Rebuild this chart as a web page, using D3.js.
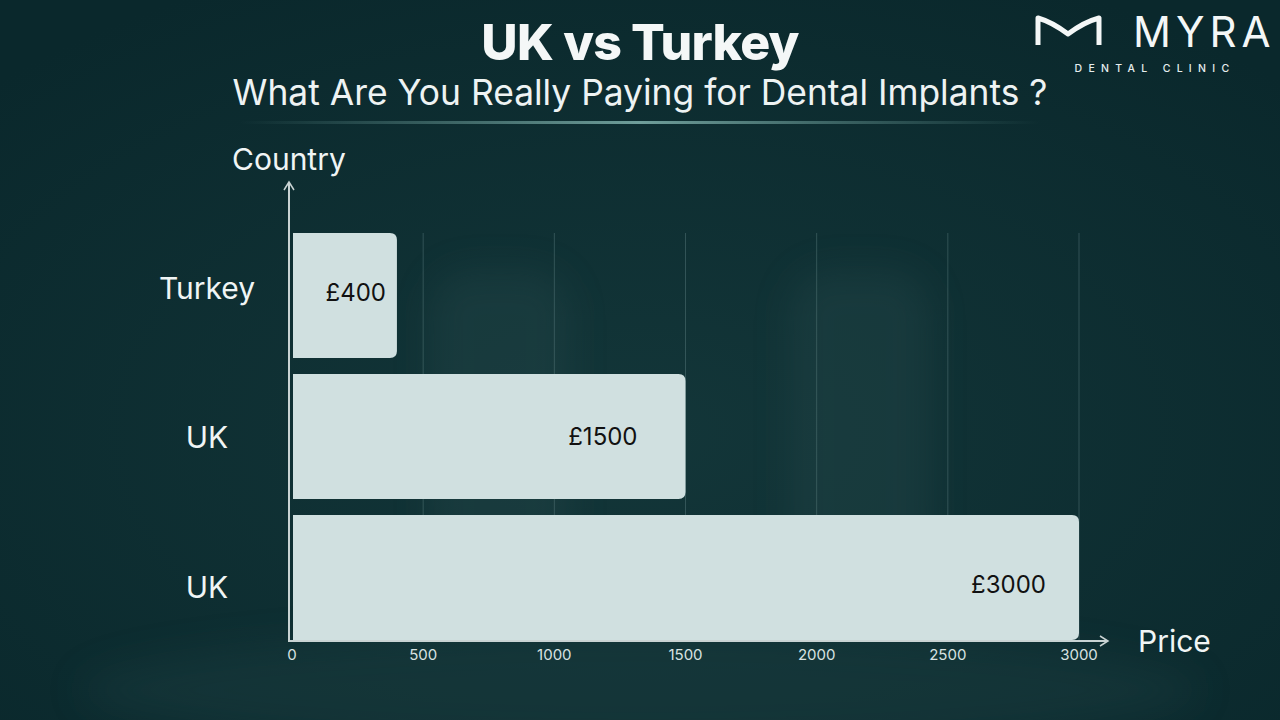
<!DOCTYPE html>
<html><head><meta charset="utf-8">
<script src="https://cdn.jsdelivr.net/npm/d3@7"></script>
<style>html,body{margin:0;padding:0;background:#0b2a2e;}svg{display:block;}</style>
</head><body>
<svg id="c" width="1280" height="720"></svg>
<script>
const categories = ["Turkey", "UK", "UK"];
const prices = [400, 1500, 3000];
const valueLabels = ["£400", "£1500", "£3000"];
const xTicks = [0, 500, 1000, 1500, 2000, 2500, 3000];

const svg = d3.select("#c");
const defs = svg.append("defs");
const bg = defs.append("radialGradient").attr("id","bg").attr("cx","50%").attr("cy","60%").attr("r","70%");
bg.append("stop").attr("offset","0%").attr("stop-color","#133639");
bg.append("stop").attr("offset","100%").attr("stop-color","#0a282c");
const blur = defs.append("filter").attr("id","blur").attr("x","-50%").attr("y","-50%").attr("width","200%").attr("height","200%");
blur.append("feGaussianBlur").attr("stdDeviation", 18);
const lg = defs.append("linearGradient").attr("id","div");
lg.append("stop").attr("offset","0%").attr("stop-color","#5f8f8c").attr("stop-opacity",0);
lg.append("stop").attr("offset","50%").attr("stop-color","#6f9e9a").attr("stop-opacity",1);
lg.append("stop").attr("offset","100%").attr("stop-color","#5f8f8c").attr("stop-opacity",0);

svg.append("rect").attr("width",1280).attr("height",720).attr("fill","url(#bg)");
const bgShapes = svg.append("g").attr("filter","url(#blur)").attr("opacity",0.3);
bgShapes.append("rect").attr("x",430).attr("y",270).attr("width",140).attr("height",300).attr("rx",40).attr("fill","#2c4e50");
bgShapes.append("rect").attr("x",790).attr("y",270).attr("width",140).attr("height",300).attr("rx",40).attr("fill","#2c4e50");
bgShapes.append("ellipse").attr("cx",640).attr("cy",690).attr("rx",560).attr("ry",60).attr("fill","#244446");

const font = "Inter, 'Noto Sans', sans-serif";

// Title
svg.append("text").attr("x",640).attr("y",60).attr("text-anchor","middle")
  .attr("font-family",font).attr("font-weight",800).attr("font-size",50)
  .attr("fill","#f4f7f7").attr("letter-spacing",-0.8).text("UK vs Turkey");
svg.append("text").attr("x",640).attr("y",105).attr("text-anchor","middle")
  .attr("font-family",font).attr("font-size",35.4).attr("fill","#eef3f3")
  .text("What Are You Really Paying for Dental Implants ?");
svg.append("rect").attr("x",240).attr("y",121).attr("width",800).attr("height",3).attr("fill","url(#div)");

// Logo
svg.append("path").attr("d","M1038,45 L1038,18 Q1052,22 1068,34 Q1084,22 1099,18 L1099,45")
  .attr("fill","none").attr("stroke","#f4f7f7").attr("stroke-width",5).attr("stroke-linejoin","round");
svg.append("text").attr("x",1133).attr("y",47).attr("font-family",font).attr("font-size",42)
  .attr("fill","#f4f7f7").attr("letter-spacing",5).text("MYRA");
svg.append("text").attr("x",1155).attr("y",72).attr("text-anchor","middle").attr("font-family",font)
  .attr("font-size",10.5).attr("font-weight",500).attr("fill","#e6eeee").attr("letter-spacing",6.3).text("DENTAL CLINIC");

// Scales
const x = d3.scaleLinear().domain([0,3000]).range([292,1079]);
const y = d3.scaleBand().domain(d3.range(categories.length)).range([233,640]).paddingInner(0.113);

// Grid
svg.append("g").selectAll("line").data(xTicks.slice(1)).join("line")
  .attr("x1",d=>x(d)).attr("x2",d=>x(d)).attr("y1",233).attr("y2",640)
  .attr("stroke","#5d7f80").attr("stroke-opacity",0.45).attr("stroke-width",1);

// Bars with right rounded corners
const r = 7;
function barPath(i){
  const x0 = x(0)+1, x1 = x(prices[i]), y0 = y(i), y1 = y(i)+y.bandwidth();
  return `M${x0},${y0} H${x1-r} Q${x1},${y0} ${x1},${y0+r} V${y1-r} Q${x1},${y1} ${x1-r},${y1} H${x0} Z`;
}
svg.append("g").selectAll("path").data(prices).join("path")
  .attr("d",(d,i)=>barPath(i)).attr("fill","#d0e0e0");

// Value labels
const labelPad = [11, 48, 33];
const labelDy = [5, 8, 16];
svg.append("g").selectAll("text").data(prices).join("text")
  .attr("x",(d,i)=> x(d)-labelPad[i])
  .attr("y",(d,i)=>y(i)+y.bandwidth()/2+labelDy[i])
  .attr("text-anchor","end").attr("font-family",font).attr("font-size",24).attr("fill","#111")
  .text((d,i)=>valueLabels[i]);

// Category labels
svg.append("g").selectAll("text").data(categories).join("text")
  .attr("x",207).attr("y",(d,i)=>y(i)+y.bandwidth()/2+(i===0?3:i===1?11:21))
  .attr("text-anchor","middle").attr("font-family",font).attr("font-size",30).attr("fill","#f0f5f5")
  .text(d=>d);

// Axes lines with arrows
const axisColor = "#c9d3d3";
svg.append("line").attr("x1",289).attr("x2",289).attr("y1",642).attr("y2",183).attr("stroke",axisColor).attr("stroke-width",2);
svg.append("path").attr("d","M284,190 L289,182 L294,190").attr("fill","none").attr("stroke",axisColor).attr("stroke-width",1.5);
svg.append("line").attr("x1",288).attr("x2",1107).attr("y1",641).attr("y2",641).attr("stroke",axisColor).attr("stroke-width",2);
svg.append("path").attr("d","M1100,636 L1108,641 L1100,646").attr("fill","none").attr("stroke",axisColor).attr("stroke-width",1.5);

// X tick labels
svg.append("g").selectAll("text").data(xTicks).join("text")
  .attr("x",d=>x(d)).attr("y",660).attr("text-anchor","middle")
  .attr("font-family",font).attr("font-size",15).attr("fill","#d8e2e2").text(d=>d);

// Axis titles
svg.append("text").attr("x",232).attr("y",170).attr("font-family",font).attr("font-size",30).attr("fill","#f0f5f5").text("Country");
svg.append("text").attr("x",1138).attr("y",652).attr("font-family",font).attr("font-size",30).attr("fill","#f0f5f5").text("Price");
</script>
</body></html>
